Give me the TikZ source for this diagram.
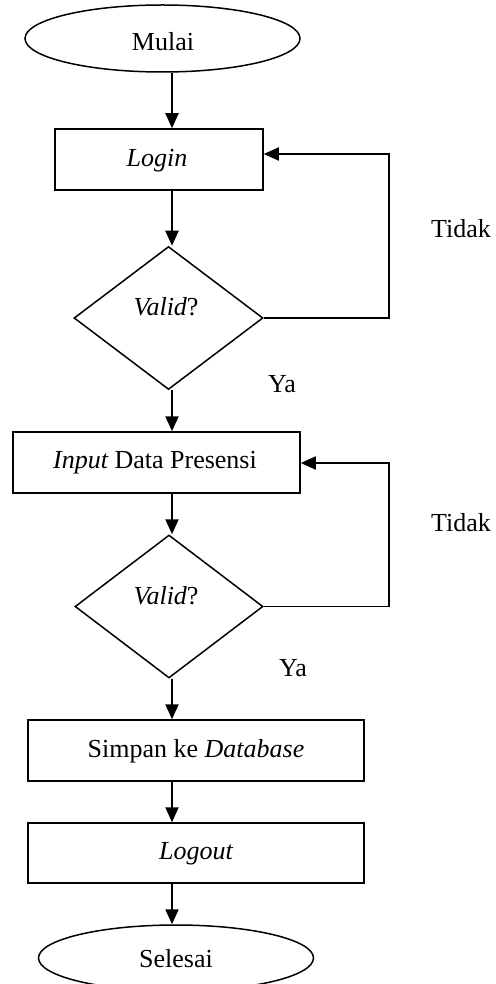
\documentclass[tikz,border=0pt]{standalone}
\usepackage{fontspec}
\setmainfont{Liberation Serif}
\usetikzlibrary{shapes.geometric,arrows.meta}
\begin{document}
\begin{tikzpicture}[x=0.5pt,y=-0.5pt,
  every node/.style={font=\fontsize{13}{15}\selectfont},
  term/.style={draw,ellipse,line width=0.75pt,inner sep=0pt},
  proc/.style={draw,rectangle,line width=0.75pt,inner sep=0pt},
  decide/.style={draw,diamond,line width=0.75pt,inner sep=0pt},
  arr/.style={line width=1.1pt,-{Triangle[length=7.5pt,width=6.5pt]}},
  loopline/.style={line width=0.9pt,-{Triangle[length=7.5pt,width=6.5pt]}}]
\useasboundingbox (0,0) rectangle (496,984);

% shapes
\node[term,minimum width=137.5pt,minimum height=33.5pt] (mulai) at (162.5,38.5) {};
\node (mulaitxt) at (163,41.5) {Mulai};
\node[proc,minimum width=104pt,minimum height=30.5pt] (login) at (159,159.5) {};
\node (logintxt) at (157,161) {\itshape Login};
\node[decide,minimum width=94.5pt,minimum height=71.5pt] (d1) at (168.5,318) {};
\node (d1txt) at (166,307) {\itshape Valid\upshape ?};
\node[proc,minimum width=143.5pt,minimum height=30.5pt] (input) at (156.5,462.5) {};
\node (inputtxt) at (155,463) {\itshape Input\upshape{} Data Presensi};
\node[decide,minimum width=94pt,minimum height=71.5pt] (d2) at (169,606.5) {};
\node (d2txt) at (166,596) {\itshape Valid\upshape ?};
\node[proc,minimum width=168pt,minimum height=30.5pt] (simpan) at (196,750.5) {};
\node (simpantxt) at (196,751) {Simpan ke \itshape Database};
\node[proc,minimum width=168pt,minimum height=30pt] (logout) at (196,853) {};
\node (logouttxt) at (196,854) {\itshape Logout};
\node[term,minimum width=137.5pt,minimum height=33pt] (selesai) at (176,958) {};
\node (selesaitxt) at (176,959) {Selesai};

% branch labels
\node (tidak1) at (461,229) {Tidak};
\node (ya1) at (282,384) {Ya};
\node (tidak2) at (461,523) {Tidak};
\node (ya2) at (293,668) {Ya};

% main flow
\coordinate (ax) at (172,0);
\draw[arr] (mulai.south -| ax) -- (login.north -| ax);
\draw[arr] (login.south -| ax) -- (d1.north -| ax);
\draw[arr] (d1.south -| ax) -- (input.north -| ax);
\draw[arr] (input.south -| ax) -- (d2.north -| ax);
\draw[arr] (d2.south -| ax) -- (simpan.north -| ax);
\draw[arr] (simpan.south -| ax) -- (logout.north -| ax);
\draw[arr] (logout.south -| ax) -- (selesai.north -| ax);

% return loops
\coordinate (r1) at (389,154);
\coordinate (r2) at (389,463);
\draw[loopline] (d1.east) -| (r1) -- (login.east |- r1);
\draw[loopline] (d2.east) -| (r2) -- (input.east |- r2);
\end{tikzpicture}
\end{document}
